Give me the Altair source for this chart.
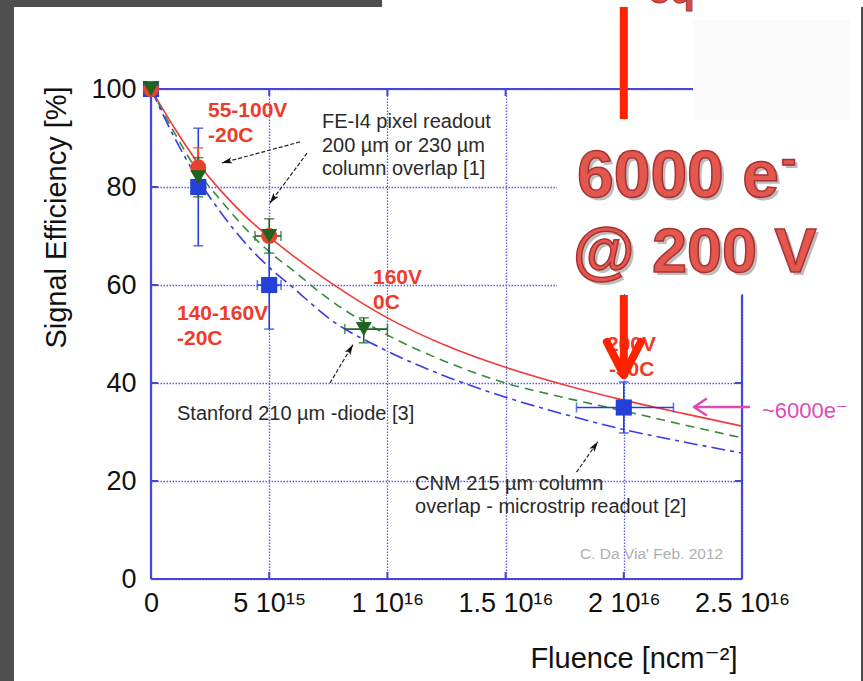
import math
import altair as alt
import pandas as pd

# ---------------- data ----------------
fluence_grid = [0, 1e15, 2e15, 3e15, 4e15, 5e15, 6e15, 7.5e15, 1e16, 1.25e16, 1.5e16, 1.75e16, 2e16, 2.25e16, 2.5e16]
red_curve = [100, 92, 84.8, 79, 74, 69.8, 66, 60.8, 53.3, 47.6, 43.2, 39.6, 36.5, 33.8, 31.2]
green_curve = [100, 91, 83, 77, 71.5, 66.8, 63, 57.2, 49.8, 44.3, 40, 37, 34.3, 31.5, 28.8]
blue_curve = [100, 90, 81.5, 74.5, 68.5, 63.6, 59.5, 53.3, 46.5, 41.3, 37.1, 33.6, 30.5, 28, 25.7]

series_domain = ["blue", "red", "green"]
series_colors = ["#2340d8", "#e8412c", "#1e641e"]
series_shapes = ["square", "circle", "triangle-down"]

pt_series = ["blue"] * 4 + ["red"] * 3 + ["green"] * 4
pt_x = [0, 2e15, 5e15, 2e16, 0, 2e15, 5e15, 0, 2e15, 5e15, 9e15]
pt_y = [100, 80, 60, 35, 100, 84, 70, 100, 82, 70, 51]

ve_series = ["blue", "blue", "blue", "red", "green", "green", "green"]
ve_x = [2e15, 5e15, 2e16, 2e15, 2e15, 5e15, 9e15]
ve_lo = [68, 51, 29.8, 80, 78, 66.5, 48.2]
ve_hi = [92, 69, 40.2, 88, 86, 73.5, 53.3]

he_series = ["blue", "blue", "green", "green"]
he_y = [60, 35, 70, 51]
he_lo = [4.5e15, 1.8e16, 4.4e15, 8.2e15]
he_hi = [5.5e15, 2.21e16, 5.5e15, 1.0e16]

x_tick_values = [0, 5e15, 1e16, 1.5e16, 2e16, 2.5e16]
x_tick_labels = ["0", "5 10¹⁵", "1 10¹⁶", "1.5 10¹⁶", "2 10¹⁶", "2.5 10¹⁶"]
y_tick_values = [0, 20, 40, 60, 80, 100]
grid_x = [5e15, 1e16, 1.5e16, 2e16]
grid_y = [20, 40, 60, 80]

red_ann_text = ["55-100V", "-20C", "140-160V", "-20C", "160V", "0C", "200V", "-30C"]
red_ann_x = [2.41e15, 2.41e15, 1.10e15, 1.10e15, 9.39e15, 9.39e15, 1.929e16, 1.937e16]
red_ann_y = [94.3, 89.2, 52.9, 47.8, 60.2, 55.1, 46.5, 41.4]

blk_ann_text = ["FE-I4 pixel readout", "200 µm or 230 µm", "column overlap [1]",
                "Stanford 210 µm -diode [3]", "CNM 215 µm column", "overlap - microstrip readout [2]"]
blk_ann_x = [7.23e15, 7.23e15, 7.23e15, 1.10e15, 1.117e16, 1.117e16]
blk_ann_y = [92.0, 87.1, 82.4, 32.4, 18.2, 13.5]

arr_x1 = [6.30e15, 6.6e15, 7.57e15, 1.80e16]
arr_y1 = [89.2, 86.9, 40.0, 21.8]
arr_x2 = [3.0e15, 5.03e15, 8.54e15, 1.89e16]
arr_y2 = [84.9, 76.7, 47.8, 28.0]

# ---------------- layout ----------------
W, H = 591, 490
PAD = {"left": 151, "top": 89, "right": 121, "bottom": 102}
FONT = "Liberation Sans, Arial, DejaVu Sans"
FRAME = "#4545e0"
XMAX = 2.5e16
xs = alt.Scale(domain=[0, XMAX], nice=False, zero=False)
ys = alt.Scale(domain=[0, 100], nice=False, zero=False)

one = pd.DataFrame({"k": [0]})

label_expr = "''"
for v, lab in reversed(list(zip(x_tick_values, x_tick_labels))):
    label_expr = f"datum.value == {int(v)} ? '{lab}' : ({label_expr})"

xaxis = alt.Axis(values=x_tick_values, labelExpr=label_expr, title="Fluence [ncm⁻²]",
                 grid=True, ticks=False, domain=False, labelFontSize=27, labelPadding=11,
                 labelFlush=False, labelOverlap=False, titleFontSize=29, titleX=586, titleY=88,
                 titleAlign="right", titleBaseline="alphabetic", titleFontWeight="normal")
yaxis = alt.Axis(values=y_tick_values, title="Signal Efficiency [%]", grid=True, ticks=False,
                 domain=False, labelFontSize=27, labelPadding=15, titleFontSize=29, titleAngle=270,
                 titleX=-86, titleY=128, titleAlign="center", titleBaseline="alphabetic",
                 titleFontWeight="normal")


def curve(vals, color, dash=None):
    df = pd.DataFrame({"f": fluence_grid, "v": vals})
    kw = dict(color=color, strokeWidth=1.6, interpolate="monotone")
    if dash:
        kw["strokeDash"] = dash
    return alt.Chart(df).mark_line(**kw).encode(
        x=alt.X("f:Q", scale=xs, axis=None),
        y=alt.Y("v:Q", scale=ys, axis=None),
    )


def prect(x, x2, y, y2, color):
    return alt.Chart(one).mark_rect(color=color).encode(
        x=alt.value(x), x2=alt.value(x2), y=alt.value(y), y2=alt.value(y2))


def prule(x, x2, y, y2, color, width, cap="butt", dash=None):
    kw = dict(color=color, strokeWidth=width, strokeCap=cap)
    if dash:
        kw["strokeDash"] = dash
    return alt.Chart(one).mark_rule(**kw).encode(
        x=alt.value(x), x2=alt.value(x2), y=alt.value(y), y2=alt.value(y2))


def ptext(txt, x, y, size, color, weight="normal", **kw):
    return alt.Chart(one).mark_text(text=txt, align="left", baseline="alphabetic", font=FONT,
                                    fontSize=size, fontWeight=weight, color=color, **kw).encode(
        x=alt.value(x), y=alt.value(y))


color_scale = alt.Scale(domain=series_domain, range=series_colors)

# axis carrier layer (invisible points at the domain ends)
axis_layer = alt.Chart(pd.DataFrame({"x": [0, XMAX], "y": [0, 100]})).mark_point(opacity=0).encode(
    x=alt.X("x:Q", scale=xs, axis=xaxis), y=alt.Y("y:Q", scale=ys, axis=yaxis))

curves = [curve(red_curve, "#f03c3c"),
          curve(green_curve, "#3a8a3a", dash=[9, 6]),
          curve(blue_curve, "#3a3ae6", dash=[14, 5, 4, 5])]

# frame + inward ticks
frame = [
    prule(0, 0, 0, H, FRAME, 2.2),
    prule(0, W, H, H, FRAME, 2.2),
    prule(0, 542, 0, 0, FRAME, 2.2),
    prule(W, W, 206, H, FRAME, 2.2),
]
tick_x_df = pd.DataFrame({"x": grid_x})
tick_y_df = pd.DataFrame({"y": grid_y})
ticks = [
    alt.Chart(tick_x_df).mark_rule(color=FRAME, strokeWidth=2).encode(
        x=alt.X("x:Q", scale=xs, axis=None), y=alt.value(H), y2=alt.value(H - 7)),
    alt.Chart(tick_x_df).mark_rule(color=FRAME, strokeWidth=2).encode(
        x=alt.X("x:Q", scale=xs, axis=None), y=alt.value(0), y2=alt.value(7)),
    alt.Chart(tick_y_df).mark_rule(color=FRAME, strokeWidth=2).encode(
        y=alt.Y("y:Q", scale=ys, axis=None), x=alt.value(0), x2=alt.value(7)),
    alt.Chart(tick_y_df).mark_rule(color=FRAME, strokeWidth=2).encode(
        y=alt.Y("y:Q", scale=ys, axis=None), x=alt.value(W), x2=alt.value(W - 7)),
]

# error bars
ve = pd.DataFrame({"s": ve_series, "x": ve_x, "lo": ve_lo, "hi": ve_hi})
he = pd.DataFrame({"s": he_series, "y": he_y, "lo": he_lo, "hi": he_hi})
err = [
    alt.Chart(ve).mark_rule(strokeWidth=1.6).encode(
        x=alt.X("x:Q", scale=xs, axis=None), y=alt.Y("lo:Q", scale=ys, axis=None), y2="hi:Q",
        color=alt.Color("s:N", scale=color_scale, legend=None)),
    alt.Chart(ve).transform_fold(["lo", "hi"], as_=["e", "yy"]).mark_tick(
        orient="horizontal", size=10, thickness=1.6).encode(
        x=alt.X("x:Q", scale=xs, axis=None), y=alt.Y("yy:Q", scale=ys, axis=None),
        color=alt.Color("s:N", scale=color_scale, legend=None)),
    alt.Chart(he).mark_rule(strokeWidth=1.6).encode(
        y=alt.Y("y:Q", scale=ys, axis=None), x=alt.X("lo:Q", scale=xs, axis=None), x2="hi:Q",
        color=alt.Color("s:N", scale=color_scale, legend=None)),
    alt.Chart(he).transform_fold(["lo", "hi"], as_=["e", "xx"]).mark_tick(
        orient="vertical", size=10, thickness=1.6).encode(
        y=alt.Y("y:Q", scale=ys, axis=None), x=alt.X("xx:Q", scale=xs, axis=None),
        color=alt.Color("s:N", scale=color_scale, legend=None)),
]

pts = pd.DataFrame({"s": pt_series, "x": pt_x, "y": pt_y,
                    "o": [series_domain.index(s) for s in pt_series]})
points = alt.Chart(pts).mark_point(filled=True, opacity=1, size=260).encode(
    x=alt.X("x:Q", scale=xs, axis=None), y=alt.Y("y:Q", scale=ys, axis=None),
    color=alt.Color("s:N", scale=color_scale, legend=None),
    shape=alt.Shape("s:N", scale=alt.Scale(domain=series_domain, range=series_shapes), legend=None),
    order=alt.Order("o:Q"),
)

# annotation arrows (black, dashed with filled heads)
pxx, pxy = W / XMAX, H / 100.0
heads = []
for x1, y1, x2, y2 in zip(arr_x1, arr_y1, arr_x2, arr_y2):
    dx, dy = (x2 - x1) * pxx, -(y2 - y1) * pxy
    L = math.hypot(dx, dy)
    ux, uy = dx / L, dy / L
    heads.append({"x": x2 - 5 * ux / pxx, "y": y2 + 5 * uy / pxy,
                  "a": math.degrees(math.atan2(ux, -uy)) % 360})
arr = pd.DataFrame({"x1": arr_x1, "y1": arr_y1, "x2": arr_x2, "y2": arr_y2})
arrows = [
    alt.Chart(arr).mark_rule(color="#222222", strokeWidth=1.2, strokeDash=[4, 2]).encode(
        x=alt.X("x1:Q", scale=xs, axis=None), y=alt.Y("y1:Q", scale=ys, axis=None),
        x2="x2:Q", y2="y2:Q"),
    alt.Chart(pd.DataFrame(heads)).mark_point(
        shape="M0,-1L0.6,1L0,0.55L-0.6,1Z", filled=True, opacity=1, color="#111111", size=110).encode(
        x=alt.X("x:Q", scale=xs, axis=None), y=alt.Y("y:Q", scale=ys, axis=None),
        angle=alt.Angle("a:Q", scale=None)),
]

red_ann = alt.Chart(pd.DataFrame({"t": red_ann_text, "x": red_ann_x, "y": red_ann_y})).mark_text(
    align="left", baseline="alphabetic", font=FONT, fontSize=21, fontWeight="bold", color="#ee3b2b").encode(
    x=alt.X("x:Q", scale=xs, axis=None), y=alt.Y("y:Q", scale=ys, axis=None), text="t:N")
blk_ann = alt.Chart(pd.DataFrame({"t": blk_ann_text, "x": blk_ann_x, "y": blk_ann_y})).mark_text(
    align="left", baseline="alphabetic", font=FONT, fontSize=20, color="#2a2a2a").encode(
    x=alt.X("x:Q", scale=xs, axis=None), y=alt.Y("y:Q", scale=ys, axis=None), text="t:N")
credit = ptext("C. Da Via' Feb. 2012", 429, 470, 15.5, "#b0b0b0")

# slide decorations (outside the data)
deco_back = [
    prect(-151, 231, -89, -82, "#4f4f4f"),
    prect(-151, -137, -89, 592, "#4f4f4f"),
    prect(710, 712, -82, 592, "#4f4f4f"),
    prect(542, 699, -69, 31, "#fbfbfb"),
    prect(406, 697, 31, 205, "#ffffff"),
]

RED = "#ff2200"
x_arrow = 2e16 * pxx
red_arrow = [
    prule(x_arrow, x_arrow, -82, 30, RED, 8),
    prule(x_arrow, x_arrow, 206, 280, RED, 8),
    prule(x_arrow - 17, x_arrow, 253, 286, RED, 8, cap="round"),
    prule(x_arrow + 17, x_arrow, 253, 286, RED, 8, cap="round"),
]

big = []
for txt, x, y, size in [("6000 e", 426, 108, 66), ("@ 200 V", 422, 183, 63), ("-", 630, 85, 46)]:
    big.append(ptext(txt, x + 3, y + 3, size, "#888888", "bold", opacity=0.55))
    big.append(ptext(txt, x, y, size, "#e4574f", "bold", stroke="#a83232", strokeWidth=1.5))
big.append(ptext("eq", 497, -86, 40, "#d94a45", "bold", stroke="#a83232", strokeWidth=1))

pink = "#de4bb4"
pink_arrow = [
    prule(543, 599, 318, 318, pink, 2.5),
    prule(555, 543, 310, 318, pink, 2.5, cap="round"),
    prule(555, 543, 326, 318, pink, 2.5, cap="round"),
    ptext("~6000e⁻", 611, 329, 22, pink),
]

layers = ([axis_layer] + curves[:1] + ticks + curves[1:] + frame + err + [points] + arrows
          + [red_ann, blk_ann, credit] + deco_back + big + red_arrow + pink_arrow)

chart = alt.layer(*layers).resolve_axis(x="independent", y="independent").properties(
    width=W, height=H, autosize=alt.AutoSizeParams(type="none"), padding=PAD, background="white",
).configure_view(stroke=None).configure_axis(
    labelFont=FONT, titleFont=FONT, labelColor="#111111", titleColor="#111111",
    gridColor="#5b5bea", gridDash=[1.5, 1.5], gridWidth=1.3, gridOpacity=1,
)

chart.save("out.html", embed_options={"renderer": "svg", "actions": False})
